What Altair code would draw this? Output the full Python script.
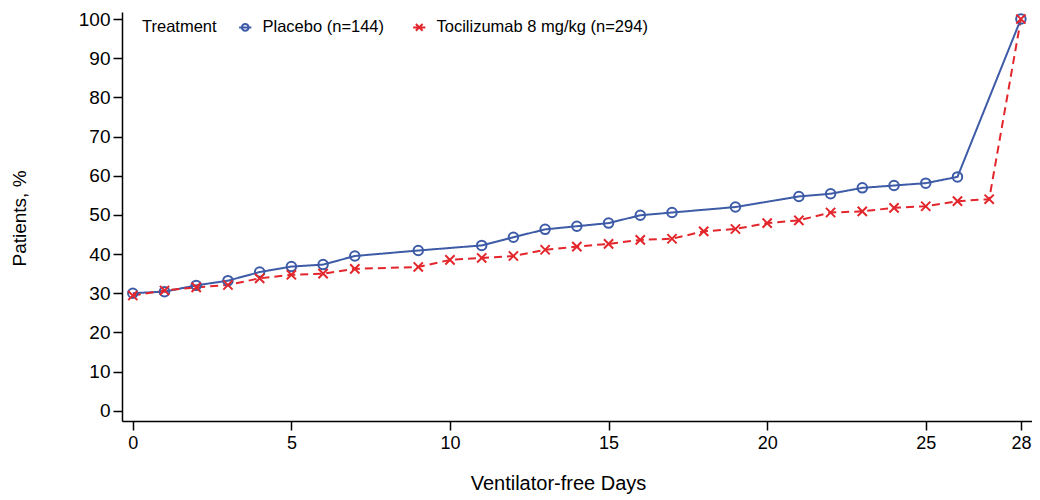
import altair as alt
import pandas as pd

# ---- data ----
series_names = ["Placebo (n=144)", "Tocilizumab 8 mg/kg (n=294)"]
series_colors = ["#3d5ba6", "#e3262b"]

placebo_days = [0, 1, 2, 3, 4, 5, 6, 7, 9, 11, 12, 13, 14, 15, 16, 17, 19, 21, 22, 23, 24, 25, 26, 28]
placebo_pct = [30.0, 30.4, 32.0, 33.2, 35.4, 36.8, 37.3, 39.5, 40.9, 42.2, 44.3, 46.3, 47.1, 47.9,
               49.9, 50.6, 52.0, 54.7, 55.4, 56.9, 57.5, 58.1, 59.7, 100.0]

toci_days = [0, 1, 2, 3, 4, 5, 6, 7, 9, 10, 11, 12, 13, 14, 15, 16, 17, 18, 19, 20, 21, 22, 23, 24,
             25, 26, 27, 28]
toci_pct = [29.4, 30.7, 31.5, 32.1, 33.8, 34.7, 35.0, 36.2, 36.7, 38.5, 39.0, 39.5, 41.1, 41.9,
            42.6, 43.6, 43.9, 45.8, 46.4, 47.9, 48.6, 50.6, 50.9, 51.8, 52.2, 53.5, 54.0, 100.0]

x_ticks = [0, 5, 10, 15, 20, 25, 28]
y_ticks = [0, 10, 20, 30, 40, 50, 60, 70, 80, 90, 100]

df = pd.concat([
    pd.DataFrame({"day": placebo_days, "pct": placebo_pct, "series": series_names[0]}),
    pd.DataFrame({"day": toci_days, "pct": toci_pct, "series": series_names[1]}),
], ignore_index=True)

FONT = "Liberation Sans"
X_PATH = "M-1,-1L1,1M-1,1L1,-1"
LEG_O = "M-1,0L1,0M-0.55,0A0.55,0.55 0 1,1 0.55,0A0.55,0.55 0 1,1 -0.55,0"
LEG_X = "M-1,0L1,0M-0.55,-0.55L0.55,0.55M-0.55,0.55L0.55,-0.55"

x_enc = alt.X(
    "day:Q",
    scale=alt.Scale(domain=[-0.34, 28.35], nice=False, zero=False),
    axis=alt.Axis(values=x_ticks, title="Ventilator-free Days", format="d",
                  titleX=436, titleY=62, titleBaseline="middle", titleAlign="center",
                  labelPadding=4, labelFontSize=18, titleFontSize=20),
)
y_enc = alt.Y(
    "pct:Q",
    scale=alt.Scale(domain=[-2.63, 101.8], nice=False, zero=False),
    axis=alt.Axis(values=y_ticks, title="Patients, %", format="d",
                  titleX=-103, titleY=206, titleBaseline="middle", titleAlign="center",
                  titleAngle=270, labelPadding=3, labelFontSize=19, titleFontSize=19),
)
stroke_enc = alt.Stroke("series:N", scale=alt.Scale(domain=series_names, range=series_colors),
                        legend=None)

base = alt.Chart(df)

lines = base.mark_line(strokeWidth=2).encode(
    x=x_enc, y=y_enc, stroke=stroke_enc,
    strokeDash=alt.StrokeDash("series:N",
                              scale=alt.Scale(domain=series_names, range=[[1, 0], [8, 5]]),
                              legend=None),
)

placebo_pts = base.transform_filter(
    alt.datum.series == series_names[0]
).mark_point(filled=False, strokeWidth=2, size=90, opacity=1, shape="circle").encode(
    x=x_enc, y=y_enc, stroke=stroke_enc,
)

toci_pts = base.transform_filter(
    alt.datum.series == series_names[1]
).mark_point(filled=False, strokeWidth=2, size=85, opacity=1, shape=X_PATH).encode(
    x=x_enc, y=y_enc, stroke=stroke_enc,
)

legend_def = alt.Legend(
    title="Treatment", orient="none", legendX=20, legendY=7, direction="horizontal",
    titleOrient="left", titlePadding=20, columnPadding=24, labelOffset=9,
    symbolSize=150, symbolStrokeWidth=2, symbolOpacity=1, padding=0,
    titleFontSize=16.5, labelFontSize=16.5, titleFontWeight="normal",
    titleColor="black", labelColor="black", titleFont=FONT, labelFont=FONT,
    labelLimit=400,
)

legend_layer = base.transform_filter("datum.day < -100").mark_point(
    filled=False, strokeWidth=2, opacity=1
).encode(
    x=x_enc, y=y_enc,
    color=alt.Color("series:N", scale=alt.Scale(domain=series_names, range=series_colors),
                    legend=legend_def),
    shape=alt.Shape("series:N", scale=alt.Scale(domain=series_names, range=[LEG_O, LEG_X]),
                    legend=legend_def),
)

chart = alt.layer(lines, placebo_pts, toci_pts, legend_layer).resolve_scale(
    color="independent", shape="independent"
).properties(
    width=910, height=409,
    autosize=alt.AutoSizeParams(type="none"),
    padding={"left": 114, "top": 4, "right": 0, "bottom": 76},
).configure_view(
    strokeWidth=0
).configure_axis(
    grid=False, domainColor="black", domainWidth=1.5, tickColor="black", tickWidth=1.5,
    tickSize=9, labelColor="black", labelFont=FONT,
    titleFontWeight="normal", titleColor="black", titleFont=FONT,
)

chart.save("out.html", embed_options={"renderer": "svg", "actions": False})
